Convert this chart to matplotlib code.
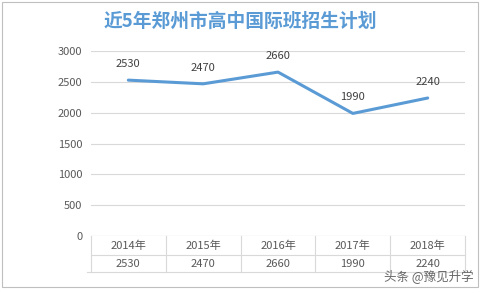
import matplotlib
matplotlib.use('Agg')
import matplotlib.pyplot as plt
from matplotlib.patches import Rectangle

plt.rcParams['font.family'] = ['Noto Sans CJK SC', 'DejaVu Sans']

years = ['2014年', '2015年', '2016年', '2017年', '2018年']
plan = [2530, 2470, 2660, 1990, 2240]
yticks = [0, 500, 1000, 1500, 2000, 2500, 3000]

grid_c = '#D9D9D9'
text_c = '#595959'
line_c = '#5B9BD5'

fig = plt.figure(figsize=(4.81, 2.89), dpi=100)
fig.patches.append(Rectangle((0.004, 0.007), 0.99, 0.986, transform=fig.transFigure,
                             fill=False, edgecolor='#BFBFBF', linewidth=0.8))

ax = fig.add_axes([0.189, 0.183, 0.778, 0.640])
x = list(range(len(years)))
ax.plot(x, plan, color=line_c, linewidth=2.2, solid_capstyle='round')
for xi, v in zip(x, plan):
    ax.annotate(str(v), (xi, v), xytext=(0, 8), textcoords='offset points',
                ha='center', va='bottom', fontsize=8, color='#404040')

ax.set_xlim(-0.5, len(years) - 0.5)
ax.set_ylim(0, 3000)
ax.set_yticks(yticks)
ax.set_yticklabels([str(t) for t in yticks])
ax.set_xticks([])
ax.tick_params(axis='y', length=0, labelsize=8, labelcolor=text_c, pad=6)
ax.grid(axis='y', color=grid_c, linewidth=0.8)
ax.set_axisbelow(True)
for s in ax.spines.values():
    s.set_visible(False)
ax.axhline(0, color=grid_c, linewidth=0.8)

# data table under the axis
row1 = -0.103
row2 = -0.195
tr = ax.get_xaxis_transform()
for b in [i - 0.5 for i in range(len(years) + 1)]:
    ax.plot([b, b], [0, row2], color=grid_c, linewidth=0.8, transform=tr, clip_on=False)
ax.plot([-0.5, len(years) - 0.5], [row1, row1], color=grid_c, linewidth=0.8,
        transform=tr, clip_on=False)
ax.plot([-0.55, len(years) - 0.5], [row2, row2], color=grid_c, linewidth=0.8,
        transform=tr, clip_on=False)
for xi, (yr, v) in enumerate(zip(years, plan)):
    ax.text(xi, row1 / 2, yr, transform=tr, ha='center', va='center',
            fontsize=8, color=text_c)
    ax.text(xi, (row1 + row2) / 2, str(v), transform=tr, ha='center', va='center',
            fontsize=8, color=text_c)

fig.text(0.5, 0.925, '近5年郑州市高中国际班招生计划', ha='center', va='center',
         fontsize=13.5, fontweight='bold', color=line_c)
fig.text(0.985, 0.04, '头条 @豫见升学', ha='right', va='center',
         fontsize=9, color='#666666')

fig.savefig('out.png', dpi=100)
